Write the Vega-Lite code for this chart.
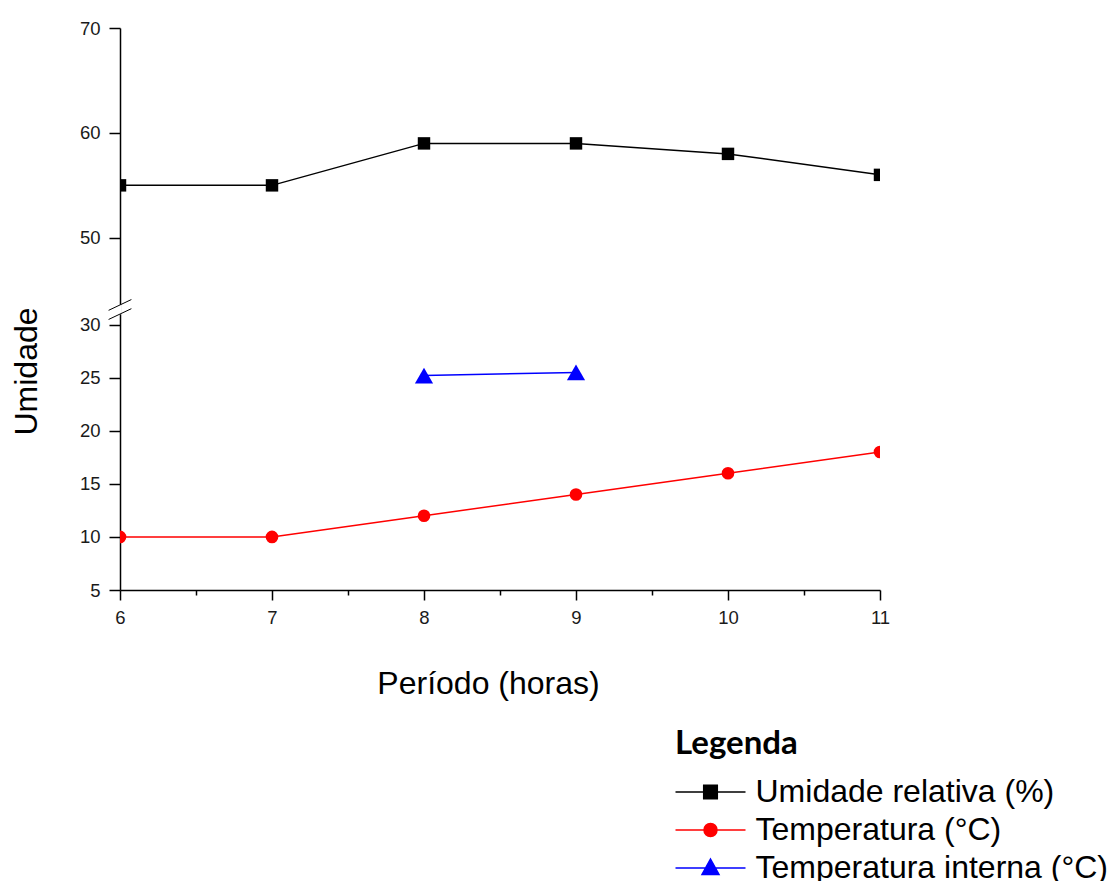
{
  "$schema": "https://vega.github.io/schema/vega-lite/v6.json",
  "width": 760,
  "height": 562,
  "autosize": {"type": "none"},
  "padding": {"left": 120, "top": 28, "right": 234, "bottom": 291},
  "background": "white",
  "config": {"view": {"stroke": null}, "axis": {"grid": false}},
  "data": {
    "values": [
      {"hora": 6, "valor": 55, "serie": "Umidade relativa (%)"},
      {"hora": 7, "valor": 55, "serie": "Umidade relativa (%)"},
      {"hora": 8, "valor": 59, "serie": "Umidade relativa (%)"},
      {"hora": 9, "valor": 59, "serie": "Umidade relativa (%)"},
      {"hora": 10, "valor": 58, "serie": "Umidade relativa (%)"},
      {"hora": 11, "valor": 56, "serie": "Umidade relativa (%)"},
      {"hora": 6, "valor": 10, "serie": "Temperatura (°C)"},
      {"hora": 7, "valor": 10, "serie": "Temperatura (°C)"},
      {"hora": 8, "valor": 12, "serie": "Temperatura (°C)"},
      {"hora": 9, "valor": 14, "serie": "Temperatura (°C)"},
      {"hora": 10, "valor": 16, "serie": "Temperatura (°C)"},
      {"hora": 11, "valor": 18, "serie": "Temperatura (°C)"},
      {"hora": 8, "valor": 25.2, "serie": "Temperatura interna (°C)"},
      {"hora": 9, "valor": 25.5, "serie": "Temperatura interna (°C)"}
    ]
  },
  "layer": [
    {
      "mark": {"type": "line", "clip": true, "strokeWidth": 1.5},
      "encoding": {
        "x": {
          "field": "hora", "type": "quantitative",
          "scale": {"domain": [6, 11], "nice": false, "zero": false},
          "axis": {
            "values": [6, 6.5, 7, 7.5, 8, 8.5, 9, 9.5, 10, 10.5, 11],
            "format": "~g",
            "labelExpr": "datum.value % 1 === 0 ? datum.label : ''",
            "tickSize": {"condition": {"test": "datum.value % 1 === 0", "value": 10}, "value": 5},
            "domainColor": "black", "domainWidth": 1.5,
            "tickColor": "black", "tickWidth": 1.5,
            "labelFont": "Liberation Sans", "labelFontSize": 18.5, "labelColor": "#1a1a1a",
            "labelPadding": 8, "labelOverlap": false, "labelFlush": false,
            "title": "Período (horas)", "titleFont": "Liberation Sans", "titleFontSize": 32,
            "titleFontWeight": "normal", "titleColor": "black",
            "titleX": 368, "titleY": 103, "titleAlign": "center", "titleBaseline": "alphabetic",
            "grid": false
          }
        },
        "y": {
          "field": "valor", "type": "quantitative",
          "scale": {"type": "linear", "domain": [5, 31.1, 43.5, 70], "range": [562, 285, 278, 0], "nice": false, "zero": false},
          "axis": {
            "values": [5, 7.5, 10, 12.5, 15, 17.5, 20, 22.5, 25, 27.5, 30, 45, 50, 55, 60, 65, 70],
            "format": "~g",
            "labelExpr": "indexof([5,10,15,20,25,30,50,60,70], datum.value) >= 0 ? datum.label : ''",
            "tickSize": {"condition": {"test": "indexof([5,10,15,20,25,30,50,60,70], datum.value) >= 0", "value": 11}, "value": 6},
            "domainColor": "black", "domainWidth": 1.5,
            "tickColor": "black", "tickWidth": 1.5,
            "labelFont": "Liberation Sans", "labelFontSize": 18.5, "labelColor": "#1a1a1a",
            "labelPadding": 9, "labelOverlap": false, "labelFlush": false,
            "title": "Umidade", "titleFont": "Liberation Sans", "titleFontSize": 32,
            "titleFontWeight": "normal", "titleColor": "black", "titleAngle": -90,
            "titleX": -84, "titleY": 343, "titleAlign": "center", "titleBaseline": "alphabetic",
            "grid": false
          }
        },
        "color": {
          "field": "serie", "type": "nominal",
          "scale": {
            "domain": ["Umidade relativa (%)", "Temperatura (°C)", "Temperatura interna (°C)"],
            "range": ["#000000", "#ff0000", "#0000ff"]
          },
          "legend": {
            "orient": "none", "legendX": 555, "legendY": 700,
            "title": "Legenda", "titleFont": "Lato", "titleFontSize": 33, "titleFontWeight": "bold",
            "titleColor": "black", "titlePadding": 15,
            "labelFont": "Liberation Sans", "labelFontSize": 32, "labelColor": "black", "labelLimit": 500,
            "labelOffset": 29, "symbolOffset": 19.5, "rowPadding": 6, "padding": 0,
            "symbolSize": 400, "symbolStrokeWidth": 1.5,
            "encode": {
              "symbols": {
                "update": {
                  "shape": {"signal": "datum.index === 0 ? 'M-3.5,0H3.5M-0.68,-0.68H0.68V0.68H-0.68Z' : datum.index === 1 ? 'M-3.5,0H3.5M0.65,0A0.65,0.65 0 1 1 -0.65,0A0.65,0.65 0 1 1 0.65,0Z' : 'M-3.5,0H3.5M0,-0.9L0.85,0.65H-0.85Z'"},
                  "fill": {"scale": "color", "field": "value"},
                  "stroke": {"scale": "color", "field": "value"},
                  "strokeWidth": {"value": 1.5},
                  "size": {"value": 400},
                  "opacity": {"value": 1}
                }
              }
            }
          }
        }
      }
    },
    {
      "transform": [{"filter": "datum.serie === 'Umidade relativa (%)'"}],
      "mark": {"type": "point", "shape": "square", "size": 155, "filled": true, "color": "#000000", "clip": true, "opacity": 1},
      "encoding": {
        "x": {"field": "hora", "type": "quantitative"},
        "y": {"field": "valor", "type": "quantitative"}
      }
    },
    {
      "transform": [{"filter": "datum.serie === 'Temperatura (°C)'"}],
      "mark": {"type": "point", "shape": "circle", "size": 160, "filled": true, "color": "#ff0000", "clip": true, "opacity": 1},
      "encoding": {
        "x": {"field": "hora", "type": "quantitative"},
        "y": {"field": "valor", "type": "quantitative"}
      }
    },
    {
      "transform": [{"filter": "datum.serie === 'Temperatura interna (°C)'"}],
      "mark": {"type": "point", "shape": "triangle-up", "size": 330, "filled": true, "color": "#0000ff", "clip": true, "opacity": 1},
      "encoding": {
        "x": {"field": "hora", "type": "quantitative"},
        "y": {"field": "valor", "type": "quantitative"}
      }
    },
    {
      "data": {"values": [{"marca": "quebra"}]},
      "mark": {"type": "point", "shape": "M-0.15,-0.4H0.15V0.4H-0.15Z", "filled": true, "color": "white", "size": 576, "opacity": 1},
      "encoding": {
        "x": {"datum": 6, "type": "quantitative"},
        "y": {"datum": 37.3, "type": "quantitative"}
      }
    },
    {
      "data": {"values": [{"marca": "quebra"}]},
      "mark": {"type": "point", "shape": "M-0.95,0.07L0.95,-0.83M-0.95,0.83L0.95,-0.07", "filled": false, "color": "black", "strokeWidth": 1, "size": 576, "opacity": 1},
      "encoding": {
        "x": {"datum": 6, "type": "quantitative"},
        "y": {"datum": 37.3, "type": "quantitative"}
      }
    }
  ]
}
